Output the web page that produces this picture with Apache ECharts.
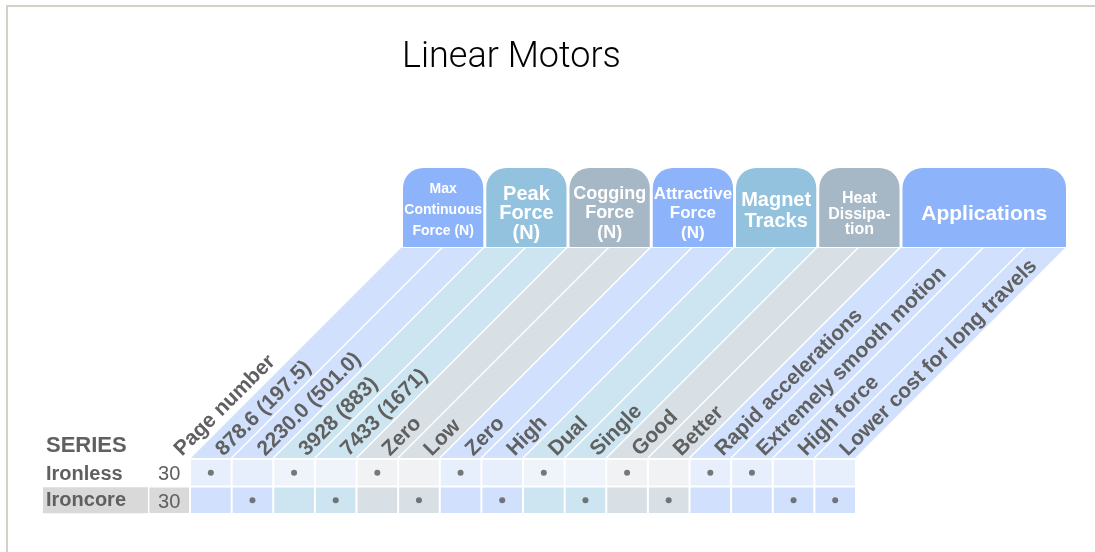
<!DOCTYPE html>
<html lang="en">
<head>
  <meta charset="utf-8">
  <style>
    html, body { margin: 0; height: 100%; background: #fff; }
    #container { width: 1095px; height: 552px; }
    #frame { position: absolute; left: 6px; top: 5px; right: 0; bottom: 0;
      border-top: 2px solid #d5d0c5; border-left: 2px solid #d5d0c5; pointer-events: none; }
  </style>
</head>
<body>
  <div id="container"></div>
  <div id="frame"></div>

  <script src="https://cdn.jsdelivr.net/npm/echarts@6/dist/echarts.min.js"></script>
  <script>
    // column 0 is the page number column, the rest are the feature columns
    const columnLabels = ['Page number', '878.6 (197.5)', '2230.0 (501.0)', '3928 (883)', '7433 (1671)',
      'Zero', 'Low', 'Zero', 'High', 'Dual', 'Single', 'Good', 'Better',
      'Rapid accelerations', 'Extremely smooth motion', 'High force', 'Lower cost for long travels'];
    const seriesNames = ['Ironless', 'Ironcore'];
    const pageNumbers = [30, 30];
    // one flag per feature column (columns 1..16)
    const ironlessMarks = [1, 0, 1, 0, 1, 0, 1, 0, 1, 0, 1, 0, 1, 1, 0, 0];
    const ironcoreMarks = [0, 1, 0, 1, 0, 1, 0, 1, 0, 1, 0, 1, 0, 0, 1, 1];
    const headerNames = ['Max\nContinuous\nForce (N)', 'Peak\nForce\n(N)', 'Cogging\nForce\n(N)',
      'Attractive\nForce\n(N)', 'Magnet\nTracks', 'Heat\nDissipa-\ntion', 'Applications'];
    const headerSpans = [2, 2, 2, 2, 2, 2, 4];
    const headerTones = ['blue', 'teal', 'gray', 'blue', 'teal', 'gray', 'blue'];
    const headerFontSizes = [14, 20, 18, 17, 20, 16, 21];
    const headerLineHeights = [21, 19.5, 19.5, 19.5, 21, 15.5, 22];
    const headerShift = [1, 4, 4, 4, 1, 5, 5];

    const tones = {
      blue: { head: '#8db3fb', stripe: '#d1e0fc', light: '#e7eefc' },
      teal: { head: '#93c2de', stripe: '#cde5f0', light: '#eef4f9' },
      gray: { head: '#a6b8c6', stripe: '#d8e0e6', light: '#f0f2f4' }
    };
    const FONT = '"Liberation Sans", Arial, sans-serif';
    const TEXT = '#606060';
    const RISE = 210;
    const HEAD_H = 79;

    // tone of each column, from the header spans
    const colTone = [null];
    const headerData = [];
    let start = 1;
    headerSpans.forEach(function (span, g) {
      headerData.push([start, 0, start + span - 1, g]);
      for (let k = 0; k < span; k++) colTone.push(headerTones[g]);
      start += span;
    });

    const featureCols = [];
    for (let c = 1; c < columnLabels.length; c++) featureCols.push([c, 0]);
    const labelCols = columnLabels.map(function (l, c) { return [c, 0]; });
    const cellData = [];
    for (let r = 0; r < seriesNames.length; r++) {
      for (let c = 0; c < columnLabels.length; c++) cellData.push([c, r]);
    }
    const dotData = [];
    [ironlessMarks, ironcoreMarks].forEach(function (marks, r) {
      marks.forEach(function (m, i) { if (m) dotData.push([i + 1, r]); });
    });
    const pageData = pageNumbers.map(function (v, r) { return [0, r, v]; });

    function renderStripe(params, api) {
      const c = api.value(0);
      const p = api.coord([c, 0]);
      const s = api.size([1, 1]);
      const left = p[0] - s[0] / 2 + 1, right = p[0] + s[0] / 2 - 1;
      const bottom = p[1] - s[1] / 2 - 1;
      const top = bottom - RISE;
      return {
        type: 'polygon',
        shape: { points: [[left, bottom], [right, bottom], [right + RISE, top], [left + RISE, top]] },
        style: { fill: tones[colTone[c]].stripe }
      };
    }

    function renderHeader(params, api) {
      const c0 = api.value(0), c1 = api.value(2), g = api.value(3);
      const a = api.coord([c0, 0]), b = api.coord([c1, 0]);
      const s = api.size([1, 1]);
      const stripeTop = a[1] - s[1] / 2 - 1 - RISE;
      const x0 = a[0] - s[0] / 2 + RISE + 3, x1 = b[0] + s[0] / 2 + RISE;
      const y1 = stripeTop - 1, y0 = y1 - HEAD_H;
      return {
        type: 'group',
        children: [
          { type: 'rect', shape: { x: x0, y: y0, width: x1 - x0, height: HEAD_H, r: [20, 20, 0, 0] },
            style: { fill: tones[headerTones[g]].head } },
          { type: 'text', x: (x0 + x1) / 2, y: (y0 + y1) / 2 + headerShift[g] + 2,
            style: { text: headerNames[g], fill: '#fff', fontFamily: FONT, fontWeight: 'bold',
              fontSize: headerFontSizes[g], lineHeight: headerLineHeights[g], align: 'center', verticalAlign: 'middle' } }
        ]
      };
    }

    function renderLabel(params, api) {
      const c = api.value(0);
      const p = api.coord([c, 0]);
      const s = api.size([1, 1]);
      const gridTop = p[1] - s[1] / 2;
      return {
        type: 'text', x: p[0] + 16, y: gridTop + 1, rotation: Math.PI / 4,
        style: { text: columnLabels[c], fill: TEXT, fontFamily: FONT, fontWeight: 'bold', fontSize: 21,
          align: 'left', verticalAlign: 'bottom' }
      };
    }

    function renderCell(params, api) {
      const c = api.value(0), r = api.value(1);
      const p = api.coord([c, r]);
      const s = api.size([1, 1]);
      let fill;
      if (c === 0) fill = r === 1 ? '#d9d9d9' : 'rgba(0,0,0,0)';
      else fill = tones[colTone[c]][r === 0 ? 'light' : 'stripe'];
      return {
        type: 'rect',
        shape: { x: p[0] - s[0] / 2 + 1, y: p[1] - s[1] / 2 + 1, width: s[0] - 2, height: s[1] - 2 },
        style: { fill: fill }
      };
    }

    function renderPage(params, api) {
      const p = api.coord([api.value(0), api.value(1)]);
      return {
        type: 'text', x: p[0], y: p[1] + 2,
        style: { text: String(api.value(2)), fill: TEXT, fontFamily: FONT, fontSize: 20,
          align: 'center', verticalAlign: 'middle' }
      };
    }

    const chart = echarts.init(document.getElementById('container'), null, { renderer: 'canvas' });
    const option = {
      animation: false,
      title: [
        { text: 'Linear Motors', left: 402, top: 40, padding: 0,
          textStyle: { fontFamily: 'Roboto, "Liberation Sans", sans-serif', fontWeight: 300, fontSize: 36, color: '#000' } },
        { text: 'SERIES', left: 46, top: 435, padding: 0,
          textStyle: { fontFamily: FONT, fontWeight: 'bold', fontSize: 22, color: TEXT } }
      ],
      grid: { left: 148.4, top: 459, width: 707.6, height: 55 },
      xAxis: {
        type: 'category', position: 'top', data: columnLabels,
        axisLine: { show: false }, axisTick: { show: false }, axisLabel: { show: false }, splitLine: { show: false }
      },
      yAxis: {
        type: 'category', inverse: true, data: seriesNames,
        axisLine: { show: false }, axisTick: { show: false }, splitLine: { show: false },
        axisLabel: {
          align: 'left', margin: 105.4,
          formatter: function (v, i) { return i === 1 ? '{hl|' + v + '}' : '{n|' + v + '}'; },
          rich: {
            n: { fontFamily: FONT, fontWeight: 'bold', fontSize: 20, color: TEXT, width: 102, padding: [3, 0, 0, 3] },
            hl: { fontFamily: FONT, fontWeight: 'bold', fontSize: 20, color: TEXT, width: 102, padding: [1, 0, 0, 3],
              height: 25, lineHeight: 27, backgroundColor: '#d9d9d9' }
          }
        }
      },
      series: [
        { type: 'custom', data: featureCols, renderItem: renderStripe, silent: true },
        { type: 'custom', data: headerData, renderItem: renderHeader, silent: true },
        { type: 'custom', data: labelCols, renderItem: renderLabel, silent: true },
        { type: 'custom', data: cellData, renderItem: renderCell, silent: true },
        { type: 'custom', data: pageData, renderItem: renderPage, silent: true },
        { type: 'scatter', data: dotData, symbol: 'circle', symbolSize: 6,
          itemStyle: { color: '#585858' }, silent: true }
      ]
    };
    chart.setOption(option);
    window.addEventListener('resize', chart.resize);
  </script>
</body>
</html>
